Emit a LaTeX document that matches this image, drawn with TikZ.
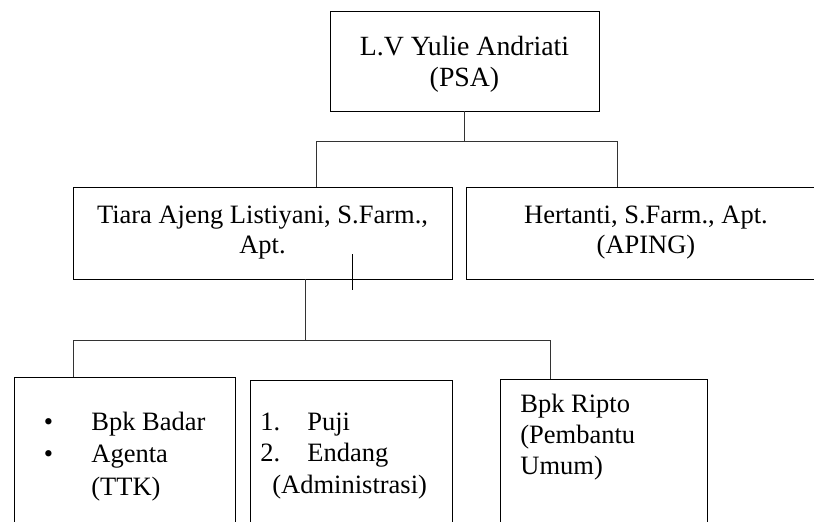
\documentclass[tikz,border=0pt]{standalone}
\usepackage{fontspec}
\setmainfont{Liberation Serif}
\usetikzlibrary{positioning}

\begin{document}
\begin{tikzpicture}[x=1pt, y=-1pt, line width=0.8pt,
    kotak/.style={draw, inner sep=0pt, align=center, font=\fontsize{26.5}{30}\selectfont},
    isi/.style={inner sep=0pt, anchor=base west, font=\fontsize{26.5}{31.5}\selectfont},
    garis/.style={draw=black!80}]
    \useasboundingbox (0,0) rectangle (814,522);
    \clip (0,0) rectangle (814,522);

    % Kotak pimpinan
    \node[kotak, minimum width=269pt, minimum height=100pt, font=\fontsize{27.8}{31}\selectfont] (psa) at (464.5,61)
        {\rule{0pt}{25pt}L.V Yulie Andriati\\(PSA)};

    % Kotak apoteker
    \node[kotak, minimum width=379pt, minimum height=92pt] (tiara) at (262.5,233) {Tiara Ajeng Listiyani, S.Farm.,\\Apt.};
    \node[kotak, minimum width=360pt, minimum height=92pt] (aping) at (646,233) {Hertanti, S.Farm., Apt.\\(APING)};

    % Kotak staf (terpotong di bawah)
    \node[kotak, minimum width=221pt, minimum height=183pt] (ttk) at (124.5,468.5) {};
    \node[kotak, minimum width=202pt, minimum height=180pt] (adm) at (351,470) {};
    \node[kotak, minimum width=207pt, minimum height=181pt] (umum) at (603.5,469.5) {};

    % Isi kotak staf
    \node[isi, font=\fontsize{26.5}{32.5}\selectfont] (tTtk) at (43.5,430) {\begin{tabular}[t]{@{}p{47.5pt}@{}l@{}}
        • & Bpk Badar\\
        • & Agenta\\
          & (TTK)
    \end{tabular}};
    \node[isi] (tAdm) at (260,430) {\begin{tabular}[t]{@{}p{47pt}@{}l@{}}
        1. & Puji\\
        2. & Endang\\
        \multicolumn{2}{@{\hspace{12pt}}l@{}}{(Administrasi)}
    \end{tabular}};
    \node[isi, font=\fontsize{26.5}{31}\selectfont] (tUmum) at (520,412) {\begin{tabular}[t]{@{}l@{}}
        Bpk Ripto\\
        (Pembantu\\
        Umum)
    \end{tabular}};

    % Garis penghubung
    \coordinate (cab1) at (316,141);
    \coordinate (cab2) at (617,141);
    \coordinate (cab3) at (305,340);
    \draw[garis] (psa.south) -- (psa.south |- cab1);
    \draw[garis] ([xshift=53.5pt]tiara.north) |- (cab2) -- ([xshift=-29pt]aping.north);
    \draw[garis] ([xshift=42.5pt]tiara.south) -- (cab3);
    \draw[garis] ([xshift=-51.5pt]ttk.north) |- ([xshift=-53.5pt]umum.north |- cab3) -- ([xshift=-53.5pt]umum.north);

    % Garis lepas
    \coordinate (lepas1) at (352,254);
    \coordinate (lepas2) at (352,290);
    \draw (lepas1) -- (lepas2);
\end{tikzpicture}
\end{document}
